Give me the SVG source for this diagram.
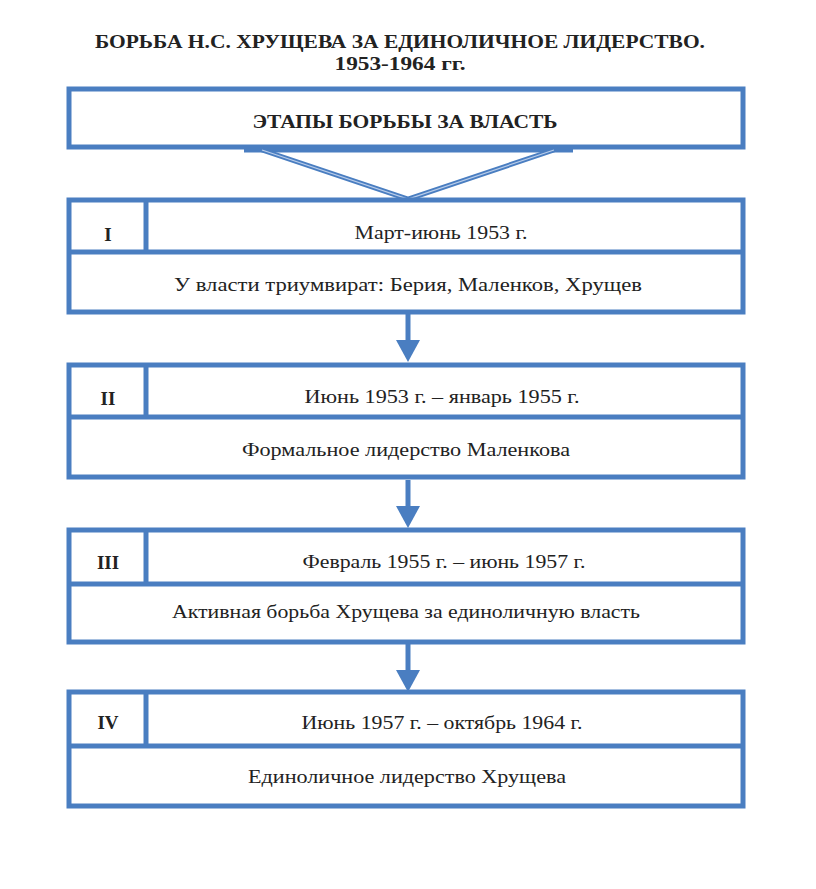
<svg xmlns="http://www.w3.org/2000/svg" width="816" height="889" viewBox="0 0 816 889">
<style>
.box{fill:#fff;stroke:#4a7ec1;stroke-width:5}
.ln{stroke:#4a7ec1;stroke-width:5;fill:none}
.t{font-family:"Liberation Serif","Times New Roman",serif;fill:#222;text-anchor:middle}
.b{font-weight:bold}
.title{font-size:18px}
.txt{font-size:18px}
.num{font-size:19px;font-weight:bold}
.ah{fill:#4a7ec1}
</style>
<rect width="816" height="889" fill="#fff"/>
<g id="title">
<text class="t b title" x="400" y="48" textLength="610" lengthAdjust="spacingAndGlyphs">БОРЬБА Н.С. ХРУЩЕВА ЗА ЕДИНОЛИЧНОЕ ЛИДЕРСТВО.</text>
<text class="t b title" x="400" y="70" textLength="131" lengthAdjust="spacingAndGlyphs">1953-1964 гг.</text>
</g>
<g id="header">
<rect class="box" x="69" y="89" width="674" height="58"/>
<text class="t b txt" x="405" y="128" textLength="305" lengthAdjust="spacingAndGlyphs">ЭТАПЫ БОРЬБЫ ЗА ВЛАСТЬ</text>
</g>
<g id="connectors">
<line class="ln" x1="244" y1="150" x2="573" y2="150" stroke-width="3"/>
<polyline class="ln" points="262,150 408,199 554,150" stroke-width="5"/>
<polyline points="262,150 408,199 554,150" fill="none" stroke="#b9cdea" stroke-width="1.2"/>
<line class="ln" x1="408" y1="314" x2="408" y2="342"/>
<path class="ah" d="M396,340 L420,340 L408,362 z"/>
<line class="ln" x1="408" y1="480" x2="408" y2="507"/>
<path class="ah" d="M396,506 L420,506 L408,528 z"/>
<line class="ln" x1="408" y1="644" x2="408" y2="671"/>
<path class="ah" d="M396,670 L420,670 L408,692 z"/>
</g>
<g id="stage1">
<rect class="box" x="69" y="200" width="674" height="112"/>
<line class="ln" x1="69" y1="252" x2="743" y2="252"/>
<line class="ln" x1="146" y1="200" x2="146" y2="252" stroke-width="6"/>
<text class="t num" x="108" y="241">I</text>
<text class="t txt" x="441" y="239" textLength="173" lengthAdjust="spacingAndGlyphs">Март-июнь 1953 г.</text>
<text class="t txt" x="408" y="291" textLength="468" lengthAdjust="spacingAndGlyphs">У власти триумвират: Берия, Маленков, Хрущев</text>
</g>
<g id="stage2">
<rect class="box" x="69" y="365" width="674" height="112"/>
<line class="ln" x1="69" y1="417" x2="743" y2="417"/>
<line class="ln" x1="146" y1="365" x2="146" y2="417" stroke-width="6"/>
<text class="t num" x="108" y="405">II</text>
<text class="t txt" x="442" y="403" textLength="275" lengthAdjust="spacingAndGlyphs">Июнь 1953 г. – январь 1955 г.</text>
<text class="t txt" x="406" y="456" textLength="328" lengthAdjust="spacingAndGlyphs">Формальное лидерство Маленкова</text>
</g>
<g id="stage3">
<rect class="box" x="69" y="530" width="674" height="112"/>
<line class="ln" x1="69" y1="584" x2="743" y2="584"/>
<line class="ln" x1="146" y1="530" x2="146" y2="584" stroke-width="6"/>
<text class="t num" x="108" y="569">III</text>
<text class="t txt" x="444" y="568" textLength="283" lengthAdjust="spacingAndGlyphs">Февраль 1955 г. – июнь 1957 г.</text>
<text class="t txt" x="406" y="618" textLength="468" lengthAdjust="spacingAndGlyphs">Активная борьба Хрущева за единоличную власть</text>
</g>
<g id="stage4">
<rect class="box" x="69" y="692" width="674" height="114"/>
<line class="ln" x1="69" y1="746" x2="743" y2="746"/>
<line class="ln" x1="146" y1="692" x2="146" y2="746" stroke-width="6"/>
<text class="t num" x="108" y="729">IV</text>
<text class="t txt" x="442" y="729" textLength="281" lengthAdjust="spacingAndGlyphs">Июнь 1957 г. – октябрь 1964 г.</text>
<text class="t txt" x="407" y="783" textLength="318" lengthAdjust="spacingAndGlyphs">Единоличное лидерство Хрущева</text>
</g>
</svg>
